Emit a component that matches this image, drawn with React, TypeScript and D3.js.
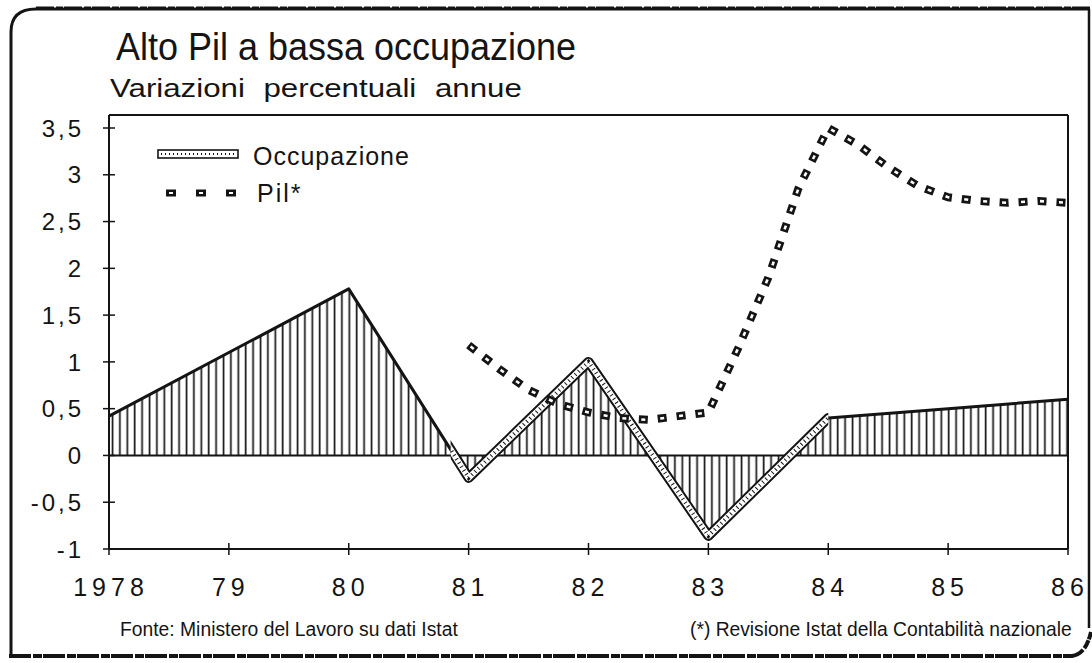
import { useLayoutEffect, useRef, useState } from 'react';
import * as d3 from 'd3';

// Occupazione: variazioni percentuali annue
const years = [1978, 1979, 1980, 1981, 1982, 1983, 1984, 1985, 1986];
const occupazione = [0.42, 1.1, 1.78, -0.24, 1.0, -0.86, 0.4, 0.5, 0.6];

// Pil* (revisione Istat), letto a trimestri
const pilYears = [
  1981, 1981.25, 1981.5, 1981.75, 1982, 1982.25, 1982.5, 1982.75, 1983, 1983.25, 1983.5,
  1983.75, 1984, 1984.25, 1984.5, 1984.75, 1985, 1985.25, 1985.5, 1985.75, 1986,
];
const pil = [
  1.18, 0.93, 0.7, 0.55, 0.46, 0.4, 0.38, 0.42, 0.46, 1.15, 1.9,
  2.85, 3.5, 3.32, 3.08, 2.88, 2.76, 2.72, 2.7, 2.72, 2.7,
];

const yTicks = [3.5, 3, 2.5, 2, 1.5, 1, 0.5, 0, -0.5, -1];
const yTickLabels = ['3,5', '3', '2,5', '2', '1,5', '1', '0,5', '0', '-0,5', '-1'];
const xTickLabels = ['1978', '79', '80', '81', '82', '83', '84', '85', '86'];

const W = 1092;
const H = 663;
const ink = '#141414';
const font = '"Liberation Sans", Arial, sans-serif';

// testo scalato in orizzontale fino alla larghezza voluta
function FitText({ x, y, width, size, children, wordSpacing = 0 }: any) {
  const ref = useRef<SVGTextElement | null>(null);
  const [sx, setSx] = useState(1);
  useLayoutEffect(() => {
    if (!ref.current) return;
    const len = ref.current.getComputedTextLength();
    if (len > 0) setSx(width / len);
  }, [width, size, children]);
  return (
    <text
      ref={ref}
      transform={`translate(${x},${y}) scale(${sx},1)`}
      fontFamily={font}
      fontSize={size}
      wordSpacing={wordSpacing}
      fill={ink}
    >
      {children}
    </text>
  );
}

export default function App() {
  const left = 109;
  const right = 1068;
  const top = 115;

  const x = d3.scaleLinear().domain([1978, 1986]).range([left, right]);
  const y = d3.scaleLinear().domain([-1, 3.5]).range([549, 128]);

  const occ = years.map((yr, i) => ({ yr, v: occupazione[i] }));
  const pilData = pilYears.map((yr, i) => ({ yr, v: pil[i] }));

  const area = d3
    .area<{ yr: number; v: number }>()
    .x(d => x(d.yr))
    .y0(y(0))
    .y1(d => y(d.v));
  const line = d3
    .line<{ yr: number; v: number }>()
    .x(d => x(d.yr))
    .y(d => y(d.v));

  const occPath = line(occ) || '';
  const pilPath = line(pilData) || '';

  return (
    <svg
      width={W}
      height={H}
      style={{ position: 'absolute', left: 0, top: 0, background: '#fff' }}
    >
      <defs>
        <pattern id="hatch" patternUnits="userSpaceOnUse" width={7.4} height={12}>
          <rect width={7.4} height={12} fill="#fff" />
          <line x1={1.5} x2={1.5} y1={0} y2={12} stroke={ink} strokeWidth={1.7} />
        </pattern>
        <clipPath id="bandClip">
          <rect x={x(1980.85)} y={0} width={x(1984) - x(1980.85)} height={H} />
        </clipPath>
      </defs>

      {/* cornice del ritaglio */}
      <path d="M11,655 L11,32 Q11,9 36,9 L1090,9" fill="none" stroke={ink} strokeWidth={3} />
      <line x1={36} x2={1092} y1={8} y2={8} stroke={ink} strokeWidth={3} strokeDasharray="18 2 7 1" />
      <line x1={1089} x2={1089} y1={9} y2={628} stroke={ink} strokeWidth={2.5} />
      <path
        d="M9,656 L1072,656 Q1086,654 1091,632"
        fill="none"
        stroke={ink}
        strokeWidth={4}
        strokeDasharray="22 2 9 1"
      />

      {/* titoli */}
      <FitText x={116} y={60} width={460} size={38}>
        Alto Pil a bassa occupazione
      </FitText>
      <FitText x={110} y={97} width={412} size={25} wordSpacing={8}>
        Variazioni percentuali annue
      </FitText>

      {/* area occupazione */}
      <path d={area(occ) || ''} fill="url(#hatch)" />
      <line x1={left} x2={right} y1={y(0)} y2={y(0)} stroke={ink} strokeWidth={2} />

      {/* linea occupazione: tratto semplice e tratto a banda */}
      <path d={occPath} fill="none" stroke={ink} strokeWidth={3} strokeLinejoin="round" />
      <g clipPath="url(#bandClip)">
        <path d={occPath} fill="none" stroke={ink} strokeWidth={10} strokeLinejoin="round" />
        <path d={occPath} fill="none" stroke="#fff" strokeWidth={6} strokeLinejoin="round" />
        <path d={occPath} fill="none" stroke={ink} strokeWidth={4} strokeDasharray="1 3.5" />
      </g>

      {/* Pil */}
      <path d={pilPath} fill="none" stroke={ink} strokeWidth={8} strokeDasharray="9 10" />
      <path d={pilPath} fill="none" stroke="#fff" strokeWidth={2.6} strokeDasharray="4 15" strokeDashoffset={-2.5} />

      {/* cornice del grafico */}
      <line x1={left} x2={right} y1={top} y2={top} stroke={ink} strokeWidth={2} />
      <line x1={right} x2={right} y1={top} y2={y(-1)} stroke={ink} strokeWidth={2} />
      <line x1={left} x2={left} y1={top} y2={y(-1)} stroke={ink} strokeWidth={2} />
      <line x1={left} x2={right} y1={y(-1)} y2={y(-1)} stroke={ink} strokeWidth={2} />

      {/* asse y */}
      {yTicks.map((t, i) => (
        <g key={t}>
          <line x1={left - 6} x2={left + 6} y1={y(t)} y2={y(t)} stroke={ink} strokeWidth={1.5} />
          <text
            x={84}
            y={y(t)}
            dy="0.36em"
            textAnchor="end"
            fontFamily={font}
            fontSize={24}
            letterSpacing={3}
            fill={ink}
          >
            {yTickLabels[i]}
          </text>
        </g>
      ))}

      {/* asse x */}
      {years.map((yr, i) => (
        <g key={yr}>
          <line x1={x(yr)} x2={x(yr)} y1={y(-1) - 6} y2={y(-1) + 6} stroke={ink} strokeWidth={1.5} />
          <text
            x={x(yr) + 2}
            y={596}
            textAnchor="middle"
            fontFamily={font}
            fontSize={25}
            letterSpacing={5}
            fill={ink}
          >
            {xTickLabels[i]}
          </text>
        </g>
      ))}

      {/* legenda */}
      <rect x={158} y={150} width={80} height={8} fill="#fff" stroke={ink} strokeWidth={1.6} />
      <line x1={161} x2={235} y1={154} y2={154} stroke={ink} strokeWidth={2} strokeDasharray="1 3" />
      <text x={253} y={165} fontFamily={font} fontSize={25} fill={ink} letterSpacing={1}>
        Occupazione
      </text>
      <line x1={166} x2={242} y1={193} y2={193} stroke={ink} strokeWidth={7} strokeDasharray="10 20" />
      <line x1={166} x2={242} y1={193} y2={193} stroke="#fff" strokeWidth={2.2} strokeDasharray="4 26" strokeDashoffset={-3} />
      <text x={257} y={202} fontFamily={font} fontSize={25} fill={ink} letterSpacing={2}>
        Pil*
      </text>

      {/* note */}
      <FitText x={120} y={636} width={338} size={21}>
        Fonte: Ministero del Lavoro su dati Istat
      </FitText>
      <FitText x={690} y={636} width={382} size={21}>
        (*) Revisione Istat della Contabilità nazionale
      </FitText>
    </svg>
  );
}
